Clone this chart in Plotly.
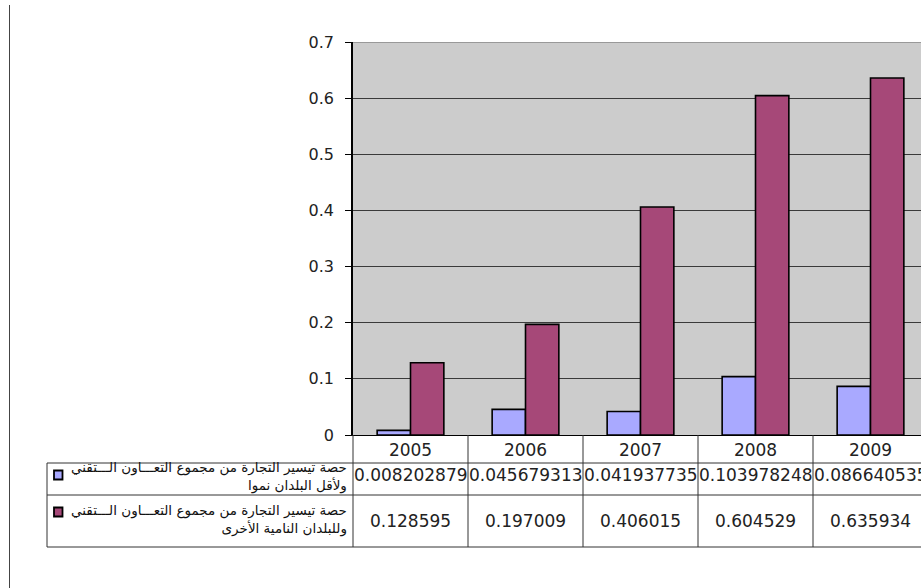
import plotly.graph_objects as go

# --- data ---------------------------------------------------------------
years = ["2005", "2006", "2007", "2008", "2009"]
share_ldc = [0.008202879, 0.045679313, 0.041937735, 0.103978248, 0.086640535]
share_other = [0.128595, 0.197009, 0.406015, 0.604529, 0.635934]

label_ldc = "حصة تيسير التجارة من مجموع التعـــاون الـــتقني<br>ولأقل البلدان نموا"
label_other = "حصة تيسير التجارة من مجموع التعـــاون الـــتقني<br>وللبلدان النامية الأخرى"

y_ticks = [0, 0.1, 0.2, 0.3, 0.4, 0.5, 0.6, 0.7]
y_tick_text = ["0", "0.1", "0.2", "0.3", "0.4", "0.5", "0.6", "0.7"]

# --- page geometry (pixels) ---------------------------------------------
W, H = 921, 588
L, T, B = 353, 42, 153
PW, PH = W - L, H - T - B
CAT_W = 115.0

BLUE = "#A9A9FF"
PLUM = "#A64878"
LINE = "#333333"
NUM_FONT = dict(family="DejaVu Sans", size=17, color="#222222")
AR_FONT = dict(family="DejaVu Sans, Noto Sans", size=13.5, color="#111111")


def px(x):
    return (x - L) / PW


def py(y):
    return (T + PH - y) / PH


def cx(i):
    # centre of category i in paper units
    return px(L + (i + 0.5) * CAT_W)


fig = go.Figure()
fig.add_trace(go.Bar(x=years, y=share_ldc, marker=dict(color=BLUE, line=dict(color="black", width=1.6)),
                     name="ldc", showlegend=False))
fig.add_trace(go.Bar(x=years, y=share_other, marker=dict(color=PLUM, line=dict(color="black", width=1.6)),
                     name="other", showlegend=False))

shapes = []
# frame of the data table under the axis
for yy in (463, 495, 547):
    shapes.append(dict(type="line", xref="paper", yref="paper", x0=px(47), x1=px(W + 10),
                       y0=py(yy), y1=py(yy), line=dict(color=LINE, width=1)))
shapes.append(dict(type="line", xref="paper", yref="paper", x0=px(47), x1=px(47),
                   y0=py(463), y1=py(547), line=dict(color=LINE, width=1)))
for k in range(len(years) + 1):
    xx = px(L + k * CAT_W)
    shapes.append(dict(type="line", xref="paper", yref="paper", x0=xx, x1=xx,
                       y0=py(435), y1=py(547), line=dict(color=LINE, width=1)))
# top edge of the plot area
shapes.append(dict(type="line", xref="paper", yref="y", x0=0, x1=1, y0=0.7, y1=0.7,
                   line=dict(color="#999999", width=2)))
# legend keys in the table
for yc, col in [(475, BLUE), (512, PLUM)]:
    shapes.append(dict(type="rect", xref="paper", yref="paper", x0=px(54), x1=px(62.5),
                       y0=py(yc - 4.5), y1=py(yc + 4.5), fillcolor=col, line=dict(color="black", width=1.8)))
# page rule on the left
shapes.append(dict(type="line", xref="paper", yref="paper", x0=px(9.5), x1=px(9.5),
                   y0=py(5), y1=py(H + 5), line=dict(color="#444444", width=1)))

annotations = []
for i in range(len(years)):
    annotations.append(dict(x=cx(i), xref="paper", y=py(475), yref="paper", text=f"{share_ldc[i]:.9f}",
                            showarrow=False, font=NUM_FONT, xanchor="center", yanchor="middle"))
    annotations.append(dict(x=cx(i), xref="paper", y=py(521), yref="paper", text=f"{share_other[i]:.6f}",
                            showarrow=False, font=NUM_FONT, xanchor="center", yanchor="middle"))
annotations.append(dict(x=px(349), xref="paper", y=py(476), yref="paper", text=label_ldc,
                        showarrow=False, font=AR_FONT, xanchor="right", yanchor="middle", align="right"))
annotations.append(dict(x=px(349), xref="paper", y=py(519), yref="paper", text=label_other,
                        showarrow=False, font=AR_FONT, xanchor="right", yanchor="middle", align="right"))

fig.update_layout(
    width=W, height=H,
    margin=dict(l=L, r=0, t=T, b=B, pad=0),
    paper_bgcolor="white",
    plot_bgcolor="#CCCCCC",
    barmode="group",
    bargap=0.42,
    bargroupgap=0,
    shapes=shapes,
    annotations=annotations,
    xaxis=dict(type="category", range=[-0.5, -0.5 + PW / CAT_W], showgrid=False,
               showline=True, linecolor="black", linewidth=1, ticks="",
               tickfont=NUM_FONT, ticklabelstandoff=0, fixedrange=True),
    yaxis=dict(range=[0, 0.7], tickvals=y_ticks, ticktext=y_tick_text, showgrid=True,
               gridcolor="#3a3a3a", gridwidth=1, showline=True, linecolor="black", linewidth=1.5,
               ticks="outside", ticklen=6, tickcolor="black",
               tickfont=dict(family="DejaVu Sans", size=16, color="#222222"),
               ticklabelstandoff=8, zeroline=False, fixedrange=True),
)

fig.write_html("out.html", config={"displayModeBar": False})
